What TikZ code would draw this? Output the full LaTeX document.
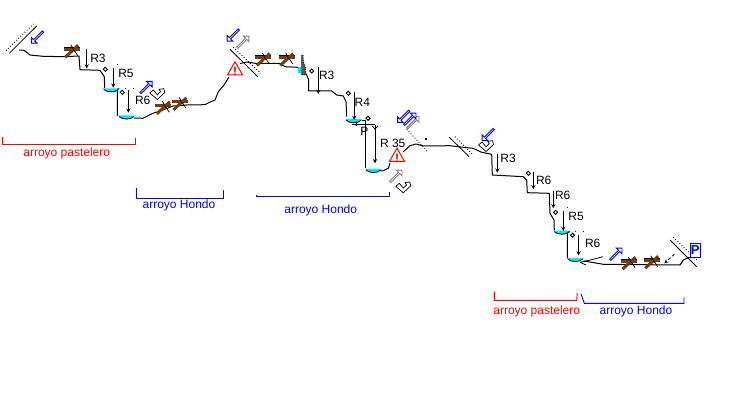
\documentclass[tikz,border=0pt]{standalone}
\usepackage{fontspec}
\setmainfont{Liberation Sans}
\usetikzlibrary{shapes.arrows,shapes.geometric}
\definecolor{agua}{RGB}{0,235,245}
\definecolor{tronco}{RGB}{112,62,16}
\tikzset{
    every node/.style={font=\fontsize{12}{14}\selectfont,inner sep=0pt},
    perfil/.style={line width=1pt,line join=round},
    cuerda/.style={line width=0.9pt,-stealth},
    boca/.style={line width=0.8pt},
    bocap/.style={line width=0.9pt,dotted},
    rojo/.style={red,line width=0.9pt},
    azul/.style={blue,line width=0.9pt},
    flecha/.style={single arrow,draw=#1,fill=white,line width=0.9pt,minimum height=16.5pt,
        minimum width=8pt,single arrow head extend=1.6pt,single arrow head indent=0pt},
    anclaje/.style={diamond,draw,fill=white,line width=0.9pt,minimum size=4.5pt},
    punto/.style={blue,line width=0.7pt},
    charca/.pic={
        \fill[agua] (0,0) -- (17,0) .. controls (13,5) and (4,5) .. (0,0);
        \draw[line width=0.8pt] (1,1) .. controls (4,4.4) and (13,4.4) .. (16,1);
    },
    tronquito/.pic={
        \draw[line width=0.6pt] (-8,-3.4) -- (8,-3.4);
        \draw[line width=0.7pt] (-1,-6) -- (6,5);
        \draw[tronco,line width=3pt] (-8,-1.5) -- (8,-1.5);
        \draw[tronco,line width=3pt] (-6.5,6.5) -- (6.5,-5.5);
        \draw[line width=0.6pt] (0,-4) -- (3,1);
    },
    gancho/.pic={
        \draw[line width=0.7pt,fill=white] (-7.5,-1) -- (0,5.5) -- (7.5,-1.5) -- (6.5,-5.3)
            -- (1.7,-4.7) -- (3.3,-2.3) -- (0,0.8) -- (-4,-4) -- cycle;
    },
    aviso/.pic={
        \node[draw=red,line width=1pt,isosceles triangle,isosceles triangle apex angle=60,
            shape border rotate=90,fill=white,minimum width=15pt,minimum height=12pt] (-tri) {};
        \node[red!85!black,font=\bfseries\fontsize{12}{12}\selectfont] (-mark) at (0,1) {!};
    },
}
\begin{document}
\begin{tikzpicture}[x=1pt,y=-1pt]
    \useasboundingbox (0,0) rectangle (730,406);
    % profile
    \draw[perfil] (19,50) -- (24,50.3) -- (30,55) -- (43,56.3) -- (63,56.7) -- (79,56) -- (80,69.7)
        -- (100,70.3) -- (104.3,76.7) -- (104.7,88);
    \draw[perfil] (119.3,88.5) -- (117.3,89) -- (117.3,116);
    \draw[perfil] (134,118) -- (143,118.3) -- (153,113.3) -- (163,110) -- (173,106) -- (186.7,105)
        -- (205,104.7) -- (209,102.5) -- (215,100) -- (218.3,91.7) -- (224,85) -- (229,77);
    \draw[perfil] (240,63.5) -- (246.7,62) -- (255,63.3) -- (280,63.3) -- (285,66.7) -- (298,67.3);
    \draw[perfil] (303,70) -- (306.7,75) -- (308.7,80) -- (308.7,91) -- (331.7,91) -- (336.7,95)
        -- (343.3,96) -- (346,101.7) -- (346.7,116.7);
    \draw[perfil] (361.7,121) -- (365.3,121) -- (365.3,168.5);
    \draw[perfil] (381,171) -- (383.3,170.7) -- (388.3,168.3) -- (390,163.3);
    \draw[perfil] (403.3,151.7) -- (410,145.7) -- (416,144) -- (423.3,146) -- (450,145.7)
        -- (463.3,147.3) -- (473,148.3) -- (481.7,152.3) -- (491.7,154.3) -- (492.3,175)
        -- (523.3,176.7) -- (526.7,180) -- (527.3,192.7) -- (549.3,193.3) -- (550,213.3)
        -- (554,220) -- (554.3,230.5);
    \draw[perfil] (570,231.5) -- (567.3,233) -- (567.3,258);
    \draw[perfil] (584,261) -- (603.3,264.3) -- (680,265) -- (683.3,260) -- (688.3,257.7) -- (694,257.5);
    \draw[line width=0.8pt] (580,262.3) -- (593.3,259.3) -- (602.7,256.7);
    \draw[line width=0.8pt] (580,262.3) -- (586,265);
    % pools
    \pic at (102.7,88.3) {charca};
    \pic at (118,115.5) {charca};
    \pic at (345.2,119.2) {charca};
    \pic at (365,169) {charca};
    \pic at (553.3,230.7) {charca};
    \pic at (566.7,258) {charca};
    % rock
    \fill[agua] (298.3,67.3) rectangle (301,73.5);
    \fill[gray!70!black] (301,55) -- (303,55) -- (303.5,62) -- (305.5,68) -- (306,75) -- (301,75) -- cycle;
    \draw[densely dotted,line width=0.8pt] (303,55) -- (303.5,62) -- (305.5,68) -- (306,75) -- (301,75);
    % logs
    \pic at (71.7,50.7) {tronquito};
    \pic at (163.3,107.3) {tronquito};
    \pic at (180,103.3) {tronquito};
    \pic at (263.3,59) {tronquito};
    \pic at (286.7,59) {tronquito};
    \pic at (629,262.7) {tronquito};
    \pic at (651.7,261.7) {tronquito};
    % entrances
    \draw[boca] (9.3,53.3) -- (36.7,26);
    \draw[bocap] (6,50.7) -- (33.3,24);
    \draw[boca] (230,49.3) -- (257.7,76.7);
    \draw[bocap] (233.3,47.3) -- (260.7,73.3);
    \draw[bocap] (406.7,129.3) -- (427,151);
    \fill[black] (424.8,137.8) rectangle (426.6,139.6);
    \draw[boca] (449.3,137.3) -- (469,156.5);
    \draw[bocap] (455,136.7) -- (473.3,155);
    \draw[boca] (670,240) -- (696.7,266.7);
    \draw[bocap] (673.3,237.3) -- (696.7,260);
    % drafts
    \pic at (157.3,94) {gancho};
    \pic at (403.3,187.3) {gancho};
    \pic at (486,146) {gancho};
    % arrows
    \node[flecha=blue,rotate=225] (fle1) at (37.5,37) {};
    \node[flecha=blue,rotate=45] (fle2) at (146,87.5) {};
    \node[flecha=blue,rotate=225] (fle3) at (233.3,35) {};
    \node[flecha=gray,rotate=45] (fle4) at (242.8,42.2) {};
    \node[flecha=gray,rotate=45] (fle7) at (412.8,122.8) {};
    \node[flecha=blue,rotate=45] (fle6) at (409.8,119.2) {};
    \node[flecha=blue,rotate=225] (fle5) at (403.7,116.3) {};
    \node[flecha=gray,rotate=45] (fle8) at (395.8,176.2) {};
    \node[flecha=blue,rotate=225] (fle9) at (488.3,134.5) {};
    \node[flecha=blue,rotate=45] (fle10) at (615.8,254.2) {};
    \draw[line width=0.8pt,densely dashed,-stealth] (674.3,254.3) -- (664.3,263.3);
    % warnings
    \pic (aviso1) at (235,70.5) {aviso};
    \pic (aviso2) at (397,157) {aviso};
    % ropes
    \draw[cuerda] (86.7,49.3) -- (86.7,68.5);
    \draw[cuerda] (113.3,68.3) -- (113.3,87.7);
    \draw[cuerda] (128.3,90) -- (128.3,112.7);
    \draw[cuerda] (318.3,66.7) -- (318.3,94);
    \draw[cuerda] (354.3,92) -- (354.3,120);
    \draw[cuerda] (375,125) -- (375,163.3);
    \draw[cuerda] (497.3,154.3) -- (497.3,172.7);
    \draw[cuerda] (533.3,171.7) -- (533.3,189.3);
    \draw[cuerda] (553.3,190.7) -- (553.3,208.3);
    \draw[cuerda] (563.3,210.7) -- (563.3,231);
    \draw[cuerda] (578.5,235) -- (578.5,255.5);
    \draw[line width=0.8pt] (352.3,124) -- (375,124);
    \draw[line width=0.8pt] (356,122) -- (356,126);
    \draw[line width=0.8pt] (372.3,126) -- (375,129) -- (378,126);
    % anchors
    \node[anclaje] (anc1) at (105.3,69.3) {};
    \node[anclaje] (anc2) at (122.3,92.3) {};
    \node[anclaje] (anc3) at (311.7,71) {};
    \node[anclaje] (anc4) at (348.3,93.3) {};
    \node[anclaje] (anc5) at (368,118.3) {};
    \node[anclaje] (anc6) at (528.3,173.3) {};
    \node[anclaje] (anc7) at (555.7,212.3) {};
    \node[anclaje] (anc8) at (572.5,235.2) {};
    % dots
    \draw[punto] (117,64) -- (118,64);
    \draw[punto] (125,88.3) -- (126,88.3);
    \draw[punto] (132.5,88.3) -- (133.5,88.3);
    \draw[punto] (567,207.3) -- (568,207.3);
    \draw[punto] (575,231.7) -- (576,231.7);
    \draw[punto] (582.5,231.7) -- (583.5,231.7);
    % labels
    \node (r1) at (98,58.7) {R3};
    \node (r2) at (126,73.3) {R5};
    \node (r3) at (142.7,100.7) {R6};
    \node (r4) at (326.7,75.7) {R3};
    \node (r5) at (362.3,102.3) {R4};
    \node (r6) at (364.3,131.7) {P};
    \node (r7) at (392.7,143.3) {R 35};
    \node (r8) at (508,158.7) {R3};
    \node (r9) at (543.7,180.3) {R6};
    \node (r10) at (562.7,195) {R6};
    \node (r11) at (576,216.7) {R5};
    \node (r12) at (592.7,243.3) {R6};
    \node[draw=blue,text=blue,line width=1pt,minimum width=10.5pt,minimum height=14pt,fill=white,
        font=\bfseries\fontsize{13}{13}\selectfont] (parking) at (695.3,250.3) {P};
    % brackets
    \draw[rojo] (2.7,137.3) -- (2.7,144.3) -- (135,144.3) -- (135,138.3);
    \node[red] (tramo1) at (66.7,153.3) {arroyo pastelero};
    \draw[azul] (136.7,188.3) -- (136.7,198.3) -- (223.3,198.3) -- (223.3,190);
    \node[blue] (tramo2) at (179,205.7) {arroyo Hondo};
    \draw[azul] (256,195) -- (256,196.7) -- (389.3,196.7) -- (389.3,191.7);
    \node[blue] (tramo3) at (320.7,210.7) {arroyo Hondo};
    \draw[rojo] (494.3,291.7) -- (494.3,300.3) -- (576.7,300.3) -- (577.2,293);
    \node[red] (tramo4) at (536.7,311) {arroyo pastelero};
    \draw[azul] (581,294) -- (584.3,303.3) -- (684,303.3) -- (684,297.3);
    \node[blue] (tramo5) at (636,311) {arroyo Hondo};
\end{tikzpicture}
\end{document}
